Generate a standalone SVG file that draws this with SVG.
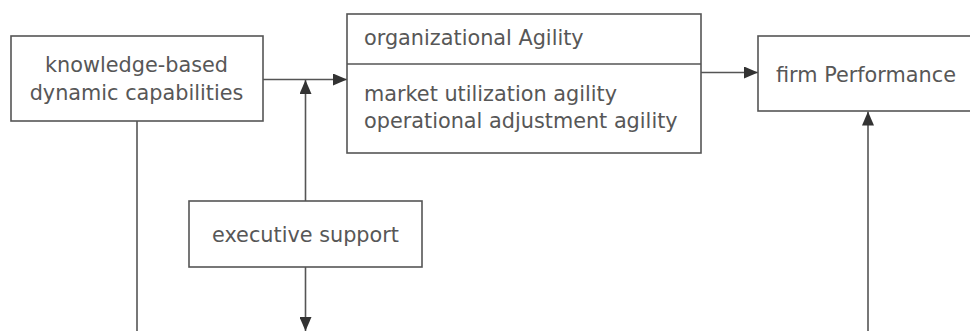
<svg xmlns="http://www.w3.org/2000/svg" width="970" height="331" viewBox="0 0 970 331">
<defs>
<style>
.box{fill:#fff;stroke:#555;stroke-width:1.6}
.ln{fill:none;stroke:#555;stroke-width:1.6}
.t{font-family:"DejaVu Sans",Verdana,sans-serif;font-size:20.8px;fill:#575757}
</style>
<marker id="ah" viewBox="0 0 14 12" refX="14" refY="6" markerWidth="14" markerHeight="12" markerUnits="userSpaceOnUse" orient="auto">
<path d="M0,0 L14,6 L0,12 Z" fill="#333"/>
</marker>
</defs>
<rect width="970" height="331" fill="#fff"/>
<g id="connectors">
<path class="ln" d="M263,79.5 H347" marker-end="url(#ah)"/>
<path class="ln" d="M305.5,201 V80" marker-end="url(#ah)"/>
<path class="ln" d="M305.5,267 V331" marker-end="url(#ah)"/>
<path class="ln" d="M701,72.5 H758" marker-end="url(#ah)"/>
<path class="ln" d="M137,121 V331"/>
<path class="ln" d="M868,331 V111.5" marker-end="url(#ah)"/>
</g>
<g id="n1">
<rect class="box" x="11" y="36" width="252" height="85"/>
<text class="t" x="136.5" y="72" text-anchor="middle">knowledge-based</text>
<text class="t" x="136.5" y="100" text-anchor="middle">dynamic capabilities</text>
</g>
<g id="n2">
<rect class="box" x="347" y="14" width="354" height="139"/>
<line class="ln" x1="347" y1="64" x2="701" y2="64"/>
<text class="t" x="364" y="45">organizational Agility</text>
<text class="t" x="364" y="101">market utilization agility</text>
<text class="t" x="364" y="128">operational adjustment agility</text>
</g>
<g id="n3">
<rect class="box" x="758" y="36" width="220" height="75"/>
<text class="t" x="776" y="82">firm Performance</text>
</g>
<g id="n4">
<rect class="box" x="189" y="201" width="233" height="66"/>
<text class="t" x="305.5" y="242" text-anchor="middle">executive support</text>
</g>
</svg>
